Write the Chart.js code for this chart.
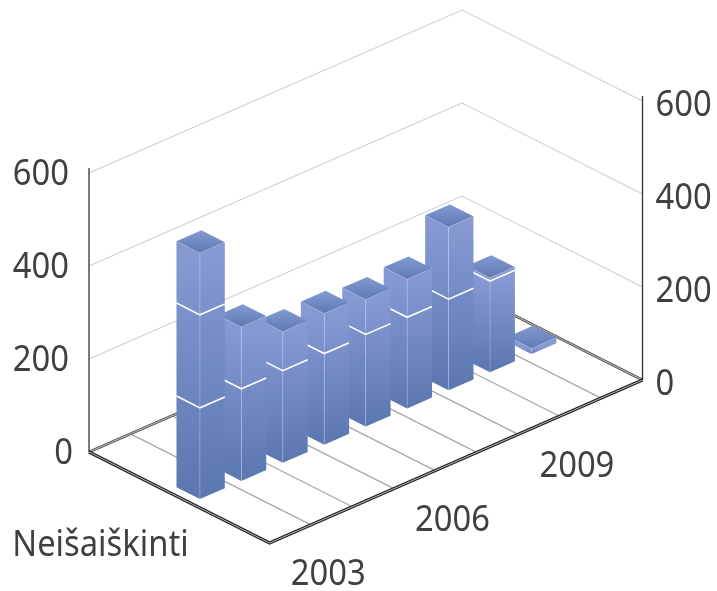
<!DOCTYPE html>
<html>
<head>
<meta charset="utf-8">
<style>html,body{margin:0;padding:0;background:#fff}canvas{display:block}</style>
<script src="https://cdn.jsdelivr.net/npm/chart.js@4"></script>
</head>
<body>
<canvas id="c" width="717" height="591"></canvas>
<script>
const years = ['2003','2004','2005','2006','2007','2008','2009','2010','2011'];
const depthLabel = 'Neišaiškinti';
const seriesA = [196,198,198,196,198,196,196,196,12];
const seriesB = [200,133,84,86,75,82,155,7,0];
const seriesC = [133,0,0,0,0,0,0,0,0];
const yMax = 600, yStep = 200;

const DEPTH_X = 180.5, DEPTH_Y = 91, SLOPE = 163 / 373;
const BAR_D0 = 0.438, BAR_DW = 0.13, BAR_SHIFT = 1.2;
const FONT = '37px "Noto Sans"', TEXT = '#404040', TEXT_SX = 0.885;

const plugin3d = {
  id: 'oblique3d',
  beforeDatasetsDraw(chart) {
    const ctx = chart.ctx, xs = chart.scales.x, ys = chart.scales.y, area = chart.chartArea;
    const P = (px, d, yPix) => [px - DEPTH_X * d, yPix - (px - area.left) * SLOPE - DEPTH_Y * d];
    const poly = (pts, fill, stroke, lw) => {
      ctx.beginPath();
      pts.forEach((p, i) => i ? ctx.lineTo(p[0], p[1]) : ctx.moveTo(p[0], p[1]));
      if (fill) { ctx.closePath(); ctx.fillStyle = fill; ctx.fill(); }
      if (stroke) { ctx.strokeStyle = stroke; ctx.lineWidth = lw; ctx.stroke(); }
    };
    const label = (s, x, y, align) => {
      ctx.save();
      ctx.translate(x, y);
      ctx.scale(TEXT_SX, 1);
      ctx.textAlign = align;
      ctx.fillText(s, 0, 0);
      ctx.restore();
    };
    const y0 = ys.getPixelForValue(0);

    // wall gridlines
    ys.ticks.forEach(t => {
      if (t.value === 0) return;
      const y = ys.getPixelForValue(t.value);
      poly([P(area.left, 1, y), P(area.right, 1, y), P(area.right, 0, y)], null, '#cfcfcf', 1.1);
    });
    // floor category lines
    const step = (area.right - area.left) / years.length;
    for (let i = 1; i < years.length; i++) {
      const px = area.left + step * i;
      poly([P(px, 0, y0), P(px, 1, y0)], null, '#a8a8a8', 1.3);
    }
    // floor outline (double line)
    const outline = [P(area.left, 1, y0), P(area.left, 0, y0), P(area.right, 0, y0), P(area.right, 1, y0)];
    const back = [P(area.right, 0, y0), P(area.right, 1, y0), P(area.left, 1, y0)];
    ctx.lineJoin = 'miter';
    poly(back, null, '#555', 2.8); poly(back, null, '#ccc', 0.9);
    poly(outline.slice(0, 3), null, '#222', 3.2); poly(outline.slice(0, 3), null, '#bbb', 1);
    // side axes
    const yTop = ys.getPixelForValue(yMax) - 5;
    const L0 = P(area.left, 1, y0), LT = P(area.left, 1, yTop), R0 = P(area.right, 0, y0), RT = P(area.right, 0, yTop);
    poly([L0, LT], null, '#333', 1.3);
    poly([R0, RT], null, '#333', 1.3);

    // bars, back to front
    const metas = chart.data.datasets.map((_, k) => chart.getDatasetMeta(k));
    for (let i = years.length - 1; i >= 0; i--) {
      const els = metas.map(m => m.data[i]);
      const first = els[0];
      const hw = first.width / 2;
      const xa = first.x - hw + BAR_SHIFT, xb = first.x + hw + BAR_SHIFT;
      const vals = chart.data.datasets.map(ds => ds.data[i]);
      let topIdx = 0;
      vals.forEach((v, k) => { if (v > 0) topIdx = k; });
      const yB = first.base, yT = els[topIdx].y;
      const d0 = BAR_D0, d1 = BAR_D0 + BAR_DW;
      const fB = P(xa, d0, yB), fT = P(xa, d0, yT);
      const grad = ctx.createLinearGradient(0, fT[1], 0, fB[1]);
      grad.addColorStop(0, '#8699d3');
      grad.addColorStop(1, '#5a77b0');
      poly([P(xa, d1, yT), P(xa, d0, yT), P(xa, d0, yB), P(xa, d1, yB)], grad);
      poly([P(xa, d0, yT), P(xb, d0, yT), P(xb, d0, yB), P(xa, d0, yB)], grad);
      // top face
      const tb = P(xb, d1, yT), tf = P(xa, d0, yT);
      const tg = ctx.createLinearGradient(0, tb[1], 0, tf[1]);
      tg.addColorStop(0, '#829bd2');
      tg.addColorStop(1, '#5f79b2');
      poly([P(xa, d0, yT), P(xb, d0, yT), P(xb, d1, yT), P(xa, d1, yT)], tg);
      // soft edges
      poly([P(xa, d0, yT), P(xa, d0, yB)], null, 'rgba(255,255,255,0.22)', 1);
      poly([P(xa, d1, yT), P(xa, d0, yT), P(xb, d0, yT)], null, 'rgba(255,255,255,0.12)', 1);
      // stack seams
      for (let k = 0; k < topIdx; k++) {
        const y = els[k].y;
        poly([P(xa, d1, y), P(xa, d0, y), P(xb, d0, y)], null, '#ffffff', 1.6);
      }
    }

    // tick labels
    ctx.font = FONT; ctx.fillStyle = TEXT; ctx.textBaseline = 'middle';
    ys.ticks.forEach(t => {
      const y = ys.getPixelForValue(t.value);
      const l = P(area.left, 1, y), r = P(area.right, 0, y);
      label(String(t.value), l[0] - (t.value === 0 ? 16 : 20), l[1] + 1, 'right');
      label(String(t.value), r[0] + 13, r[1] + 4, 'left');
    });
    years.forEach((lab, i) => {
      if (i % 3) return;
      const p = P(xs.getPixelForValue(i), 0, y0);
      label(lab, p[0] + 38, p[1] + 41, 'center');
    });
    const dp = P(area.left, 0.5, y0);
    label(depthLabel, dp[0] - 167, dp[1] + 47.5, 'left');
    return false;
  }
};

new Chart(document.getElementById('c'), {
  type: 'bar',
  data: {
    labels: years,
    datasets: [
      { label: 'A', data: seriesA, backgroundColor: '#6f88c2' },
      { label: 'B', data: seriesB, backgroundColor: '#6f88c2' },
      { label: 'C', data: seriesC, backgroundColor: '#6f88c2' }
    ]
  },
  plugins: [plugin3d],
  options: {
    responsive: false,
    animation: false,
    layout: { padding: { left: 269.5, right: 74.5, top: 264, bottom: 48 } },
    plugins: { legend: { display: false }, tooltip: { enabled: false }, title: { display: false } },
    datasets: { bar: { barPercentage: 0.6, categoryPercentage: 1 } },
    scales: {
      x: { stacked: true, display: false },
      y: { stacked: true, display: false, min: 0, max: yMax, ticks: { stepSize: yStep } }
    }
  }
});
</script>
</body>
</html>
